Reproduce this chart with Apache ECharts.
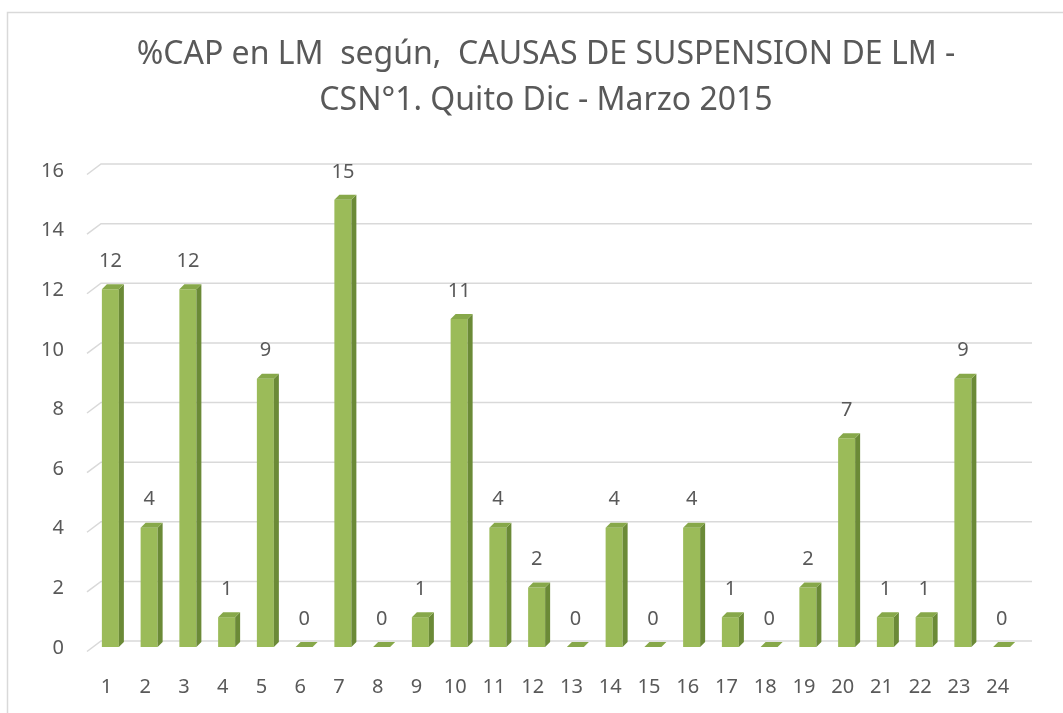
<!DOCTYPE html>
<html>
<head>
<meta charset="utf-8">
<title>%CAP en LM</title>
<script src="https://cdn.jsdelivr.net/npm/echarts@6/dist/echarts.min.js"></script>
<style>
html,body{margin:0;padding:0;background:#fff;}
#chart{width:1063px;height:713px;}
</style>
</head>
<body>
<div id="chart"></div>
<script>
// datos
var categorias = ['1','2','3','4','5','6','7','8','9','10','11','12','13','14','15','16','17','18','19','20','21','22','23','24'];
var valores = [12,4,12,1,9,0,15,0,1,11,4,2,0,4,0,4,1,0,2,7,1,1,9,0];
var ticksY = [0,2,4,6,8,10,12,14,16];
var titulo = '%CAP en LM  según,  CAUSAS DE SUSPENSION DE LM -\nCSN°1. Quito Dic - Marzo 2015';

var colorFrente = '#9bbb59';
var colorLado = '#6b8a37';
var colorTecho = '#87a84a';
var gris = '#595959';

var chart = echarts.init(document.getElementById('chart'));

var option = {
	animation: false,
	backgroundColor: '#fff',
	graphic: [{
		type: 'rect',
		left: 5, top: 10,
		shape: {width: 1200, height: 900},
		style: {fill: 'none', stroke: '#d9d9d9', lineWidth: 1.5},
		z: -10
	}, {
		// titulo (el marco del grafico sale del cuadro, por eso no va centrado)
		type: 'text',
		x: 546, y: 32,
		style: {
			text: titulo,
			align: 'center',
			verticalAlign: 'top',
			fill: gris,
			font: '32px "Noto Sans"',
			lineHeight: 46
		}
	}],
	grid: {
		left: 87,
		right: 46,
		top: 171,
		bottom: 65
	},
	xAxis: {
		type: 'category',
		data: categorias,
		axisLine: {show: false},
		axisTick: {show: false},
		axisLabel: {
			color: gris,
			fontFamily: 'Noto Sans',
			fontSize: 20,
			margin: 29
		}
	},
	yAxis: {
		type: 'value',
		min: 0,
		max: 16,
		interval: 2,
		axisLine: {show: false},
		axisTick: {show: false},
		splitLine: {show: false},
		axisLabel: {
			color: gris,
			fontFamily: 'Noto Sans',
			fontSize: 20,
			margin: 23
		}
	},
	series: [
		{
			// lineas de la cuadricula con perspectiva
			type: 'custom',
			silent: true,
			clip: false,
			z: 1,
			data: ticksY.map(function(v){ return [0, v]; }),
			renderItem: function(params, api){
				var cs = params.coordSys;
				var y = api.coord([0, api.value(1)])[1];
				return {
					type: 'polyline',
					shape: {points: [[cs.x, y + 3.5], [cs.x + 14, y - 7], [cs.x + cs.width + 15, y - 7]]},
					style: {stroke: '#d9d9d9', lineWidth: 1.5, fill: null}
				};
			}
		},
		{
			// barras 3D
			type: 'custom',
			clip: false,
			z: 2,
			data: valores.map(function(v, i){ return [i, v]; }),
			renderItem: function(params, api){
				var base = api.coord([api.value(0), 0]);
				var tope = api.coord([api.value(0), api.value(1)]);
				var w = 17, d = 5;
				var cx = base[0] + 4;
				var x0 = cx - w / 2, x1 = cx + w / 2;
				var yb = base[1] - 1, yt = tope[1] - 1;
				return {
					type: 'group',
					children: [
						{
							type: 'rect',
							shape: {x: x0, y: yt, width: w, height: yb - yt},
							style: {fill: colorFrente}
						},
						{
							type: 'polygon',
							shape: {points: [[x1, yt], [x1 + d, yt - d], [x1 + d, yb - d], [x1, yb]]},
							style: {fill: colorLado}
						},
						{
							type: 'polygon',
							shape: {points: [[x0, yt], [x0 + d, yt - d], [x1 + d, yt - d], [x1, yt]]},
							style: {fill: colorTecho}
						},
						{
							type: 'text',
							style: {
								x: cx, y: yt - 28,
								text: String(api.value(1)),
								align: 'center',
								verticalAlign: 'middle',
								fill: gris,
								font: '20px "Noto Sans"'
							}
						}
					]
				};
			}
		}
	]
};

chart.setOption(option);
</script>
</body>
</html>
